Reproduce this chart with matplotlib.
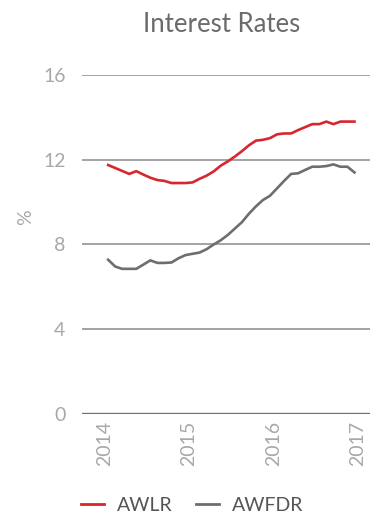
import numpy as np
import matplotlib
matplotlib.use("Agg")
import matplotlib.pyplot as plt
from matplotlib.lines import Line2D

plt.rcParams['font.family'] = ['Lato', 'DejaVu Sans']

# monthly data, Jan 2014 .. Dec 2016
months = np.arange(36)
awlr = [11.75, 11.61, 11.47, 11.33, 11.46, 11.30, 11.15, 11.04, 11.00, 10.90,
        10.90, 10.90, 10.93, 11.10, 11.25, 11.45, 11.72, 11.92, 12.15, 12.40,
        12.68, 12.90, 12.94, 13.02, 13.20, 13.24, 13.24, 13.40, 13.54, 13.68,
        13.68, 13.80, 13.68, 13.80, 13.80, 13.80]
awfdr = [7.28, 6.96, 6.85, 6.85, 6.85, 7.05, 7.25, 7.13, 7.13, 7.15,
         7.35, 7.50, 7.56, 7.62, 7.78, 8.00, 8.20, 8.45, 8.75, 9.05,
         9.45, 9.80, 10.10, 10.30, 10.65, 11.00, 11.33, 11.36, 11.52, 11.67,
         11.67, 11.70, 11.78, 11.67, 11.67, 11.40]
years = [2014, 2015, 2016, 2017]
yticks = [0, 4, 8, 12, 16]

x = 2014 + (months + 0.5) / 12

red = '#d7262e'
grey = '#6e6e70'
label_col = '#a8a8a8'

fig = plt.figure(figsize=(3.7, 5.16), dpi=100)
ax = fig.add_axes([0.222, 0.1977, 0.778, 0.657])

for v in yticks[1:]:
    ax.axhline(v, color='#8a8a8a', linewidth=1.1, zorder=1)
ax.axhline(0, color='#707070', linewidth=2.4, zorder=1)

ax.plot(x, awlr, color=red, linewidth=1.9, zorder=3)
ax.plot(x, awfdr, color=grey, linewidth=1.9, zorder=3)

ax.set_xlim(2013.734, 2017.142)
ax.set_ylim(0, 16)
ax.set_yticks(yticks)
ax.set_yticklabels([str(v) for v in yticks], fontsize=14, color=label_col)
ax.set_xticks(years)
ax.set_xticklabels([str(y) for y in years], rotation=90, fontsize=14,
                   color=label_col)
ax.tick_params(length=0, pad=12)
ax.tick_params(axis='x', pad=5)
for s in ax.spines.values():
    s.set_visible(False)

ax.set_ylabel('%', fontsize=14, color=label_col, va='center')
ax.yaxis.set_label_coords(-0.195, 0.58)

fig.text(0.6, 0.952, 'Interest Rates', ha='center', va='center',
         fontsize=18.5, color='#6b6b6b')

handles = [Line2D([], [], color=red, linewidth=2),
           Line2D([], [], color=grey, linewidth=2)]
fig.legend(handles, ['AWLR', 'AWFDR'], loc='center', bbox_to_anchor=(0.52, 0.02),
           ncol=2, frameon=False, fontsize=14, handlelength=1.15,
           columnspacing=1.2, handletextpad=0.7, labelcolor='#555555')

fig.savefig('out.png', dpi=100)
